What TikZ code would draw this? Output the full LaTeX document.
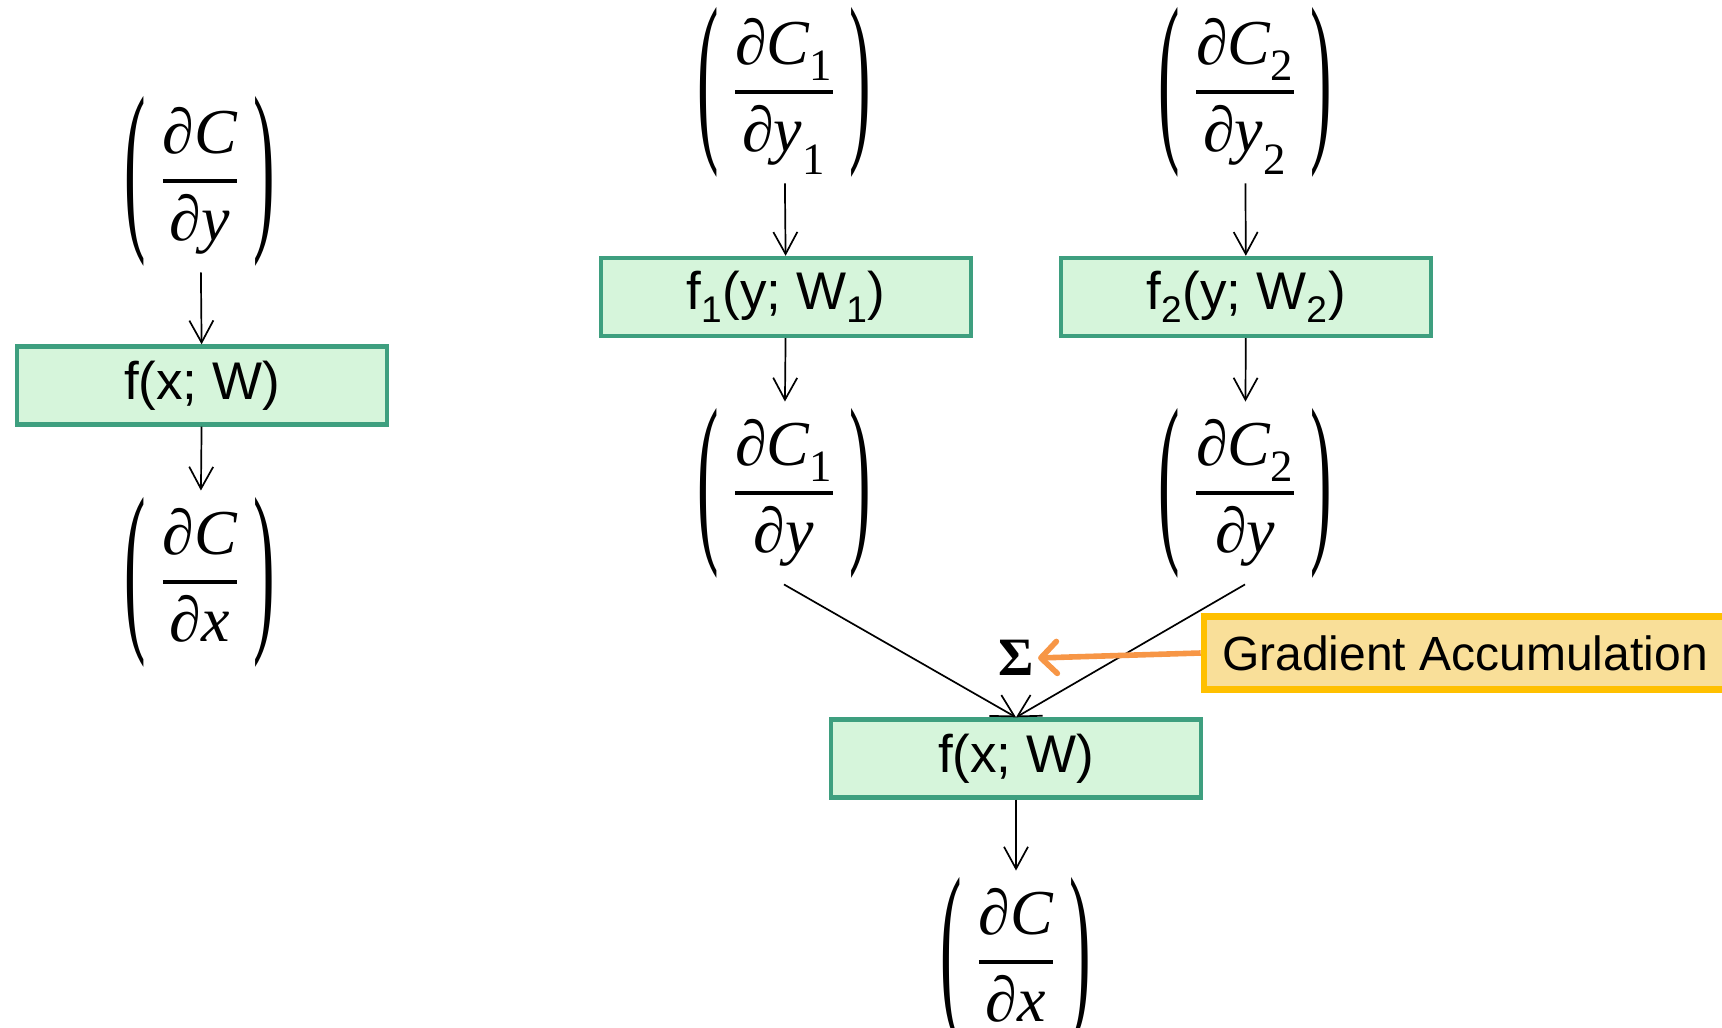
\documentclass[tikz,border=0pt]{standalone}
\usepackage{amsmath}
\usepackage{graphicx}
\usepackage{unicode-math}
\setmainfont{Liberation Sans}
\newfontfamily\tnr{Liberation Serif}
\usetikzlibrary{arrows.meta}

\definecolor{gfill}{HTML}{D6F5DB}
\definecolor{gline}{HTML}{3E9F7F}
\definecolor{yfill}{HTML}{F9DF99}
\definecolor{yline}{HTML}{FFC000}
\definecolor{oline}{HTML}{F79646}

% thin tall parentheses
\newcommand{\lpar}{\vcenter{\hbox{\scalebox{1.15}[3.35]{\tnr\fontsize{28}{30}\selectfont(}}}\mkern4mu}
\newcommand{\rpar}{\mkern4mu\vcenter{\hbox{\scalebox{1.15}[3.35]{\tnr\fontsize{28}{30}\selectfont)}}}}
\newcommand{\fr}[2]{\genfrac{}{}{1.7pt}{0}{#1}{#2}}
% fraction without subscripts
\newcommand{\pdA}[2]{$\lpar\fr{\text{\tnr ∂\itshape #1}}{\text{\tnr ∂\itshape #2}}\rpar$}
% fraction with subscripts
\newcommand{\pdB}[4]{$\lpar\fr{\text{\tnr ∂\itshape #1}\sb{\text{\tnr #2}}}{\text{\tnr ∂\itshape #3}\sb{\text{\tnr #4}}}\rpar$}
\newcommand{\pdC}[3]{$\lpar\fr{\text{\tnr ∂\itshape #1}\sb{\text{\tnr #2}}}{\text{\tnr ∂\itshape #3}}\rpar$}

\tikzset{
  fbox/.style={draw=gline, fill=gfill, line width=2.2pt, minimum width=185pt,
    minimum height=39pt, inner sep=0pt, font=\fontsize{26.5}{30}\selectfont},
  fracnode/.style={inner sep=3pt, font=\fontsize{32}{38}\selectfont},
  arr/.style={-{Straight Barb[length=11pt,width=12pt]}, line width=0.85pt},
}

\begin{document}
\begin{tikzpicture}[x=0.5pt,y=-0.5pt]
\useasboundingbox (0,0) rectangle (1722,1027);

% left column
\node[fracnode] (L1) at (200,181) {\pdA{C}{y}};
\node[fbox] (Lbox) at (202,385.5) {f(x; W)};
\node[fracnode] (L2) at (200,582) {\pdA{C}{x}};
\draw[arr] (L1) -- (Lbox);
\draw[arr] (Lbox) -- (L2);

% middle column
\node[fracnode] (M1) at (784,92) {\pdB{C}{1}{y}{1}};
\node[fbox] (Mbox) at (786,297) {f\textsubscript{1}(y; W\textsubscript{1})};
\node[fracnode] (M2) at (784,493) {\pdC{C}{1}{y}};
\draw[arr] (M1) -- (Mbox);
\draw[arr] (Mbox) -- (M2);

% right column
\node[fracnode] (R1) at (1245,92) {\pdB{C}{2}{y}{2}};
\node[fbox] (Rbox) at (1246,297) {f\textsubscript{2}(y; W\textsubscript{2})};
\node[fracnode] (R2) at (1245,493) {\pdC{C}{2}{y}};
\draw[arr] (R1) -- (Rbox);
\draw[arr] (Rbox) -- (R2);

% merge
\node[fbox] (Bbox) at (1016,758.5) {f(x; W)};
\node[fracnode] (B2) at (1016,962) {\pdA{C}{x}};
\draw[arr] (M2.south) -- (Bbox.north);
\draw[arr] (R2.south) -- (Bbox.north);
\draw[arr] (Bbox) -- (B2);

% sigma and annotation
\node[inner sep=2pt, font=\tnr\bfseries\fontsize{27}{30}\selectfont] (sig) at (1016,658) {Σ};
\node[draw=yline, fill=yfill, line width=3.3pt, minimum width=261pt, minimum height=36.5pt,
  inner sep=0pt, font=\fontsize{24}{28}\selectfont] (ga) at (1465,653) {Gradient Accumulation};
\draw[oline, line width=2.8pt, -{Straight Barb[round,length=8pt,width=16pt]}] (ga.west) -- (sig.east);
\end{tikzpicture}
\end{document}
